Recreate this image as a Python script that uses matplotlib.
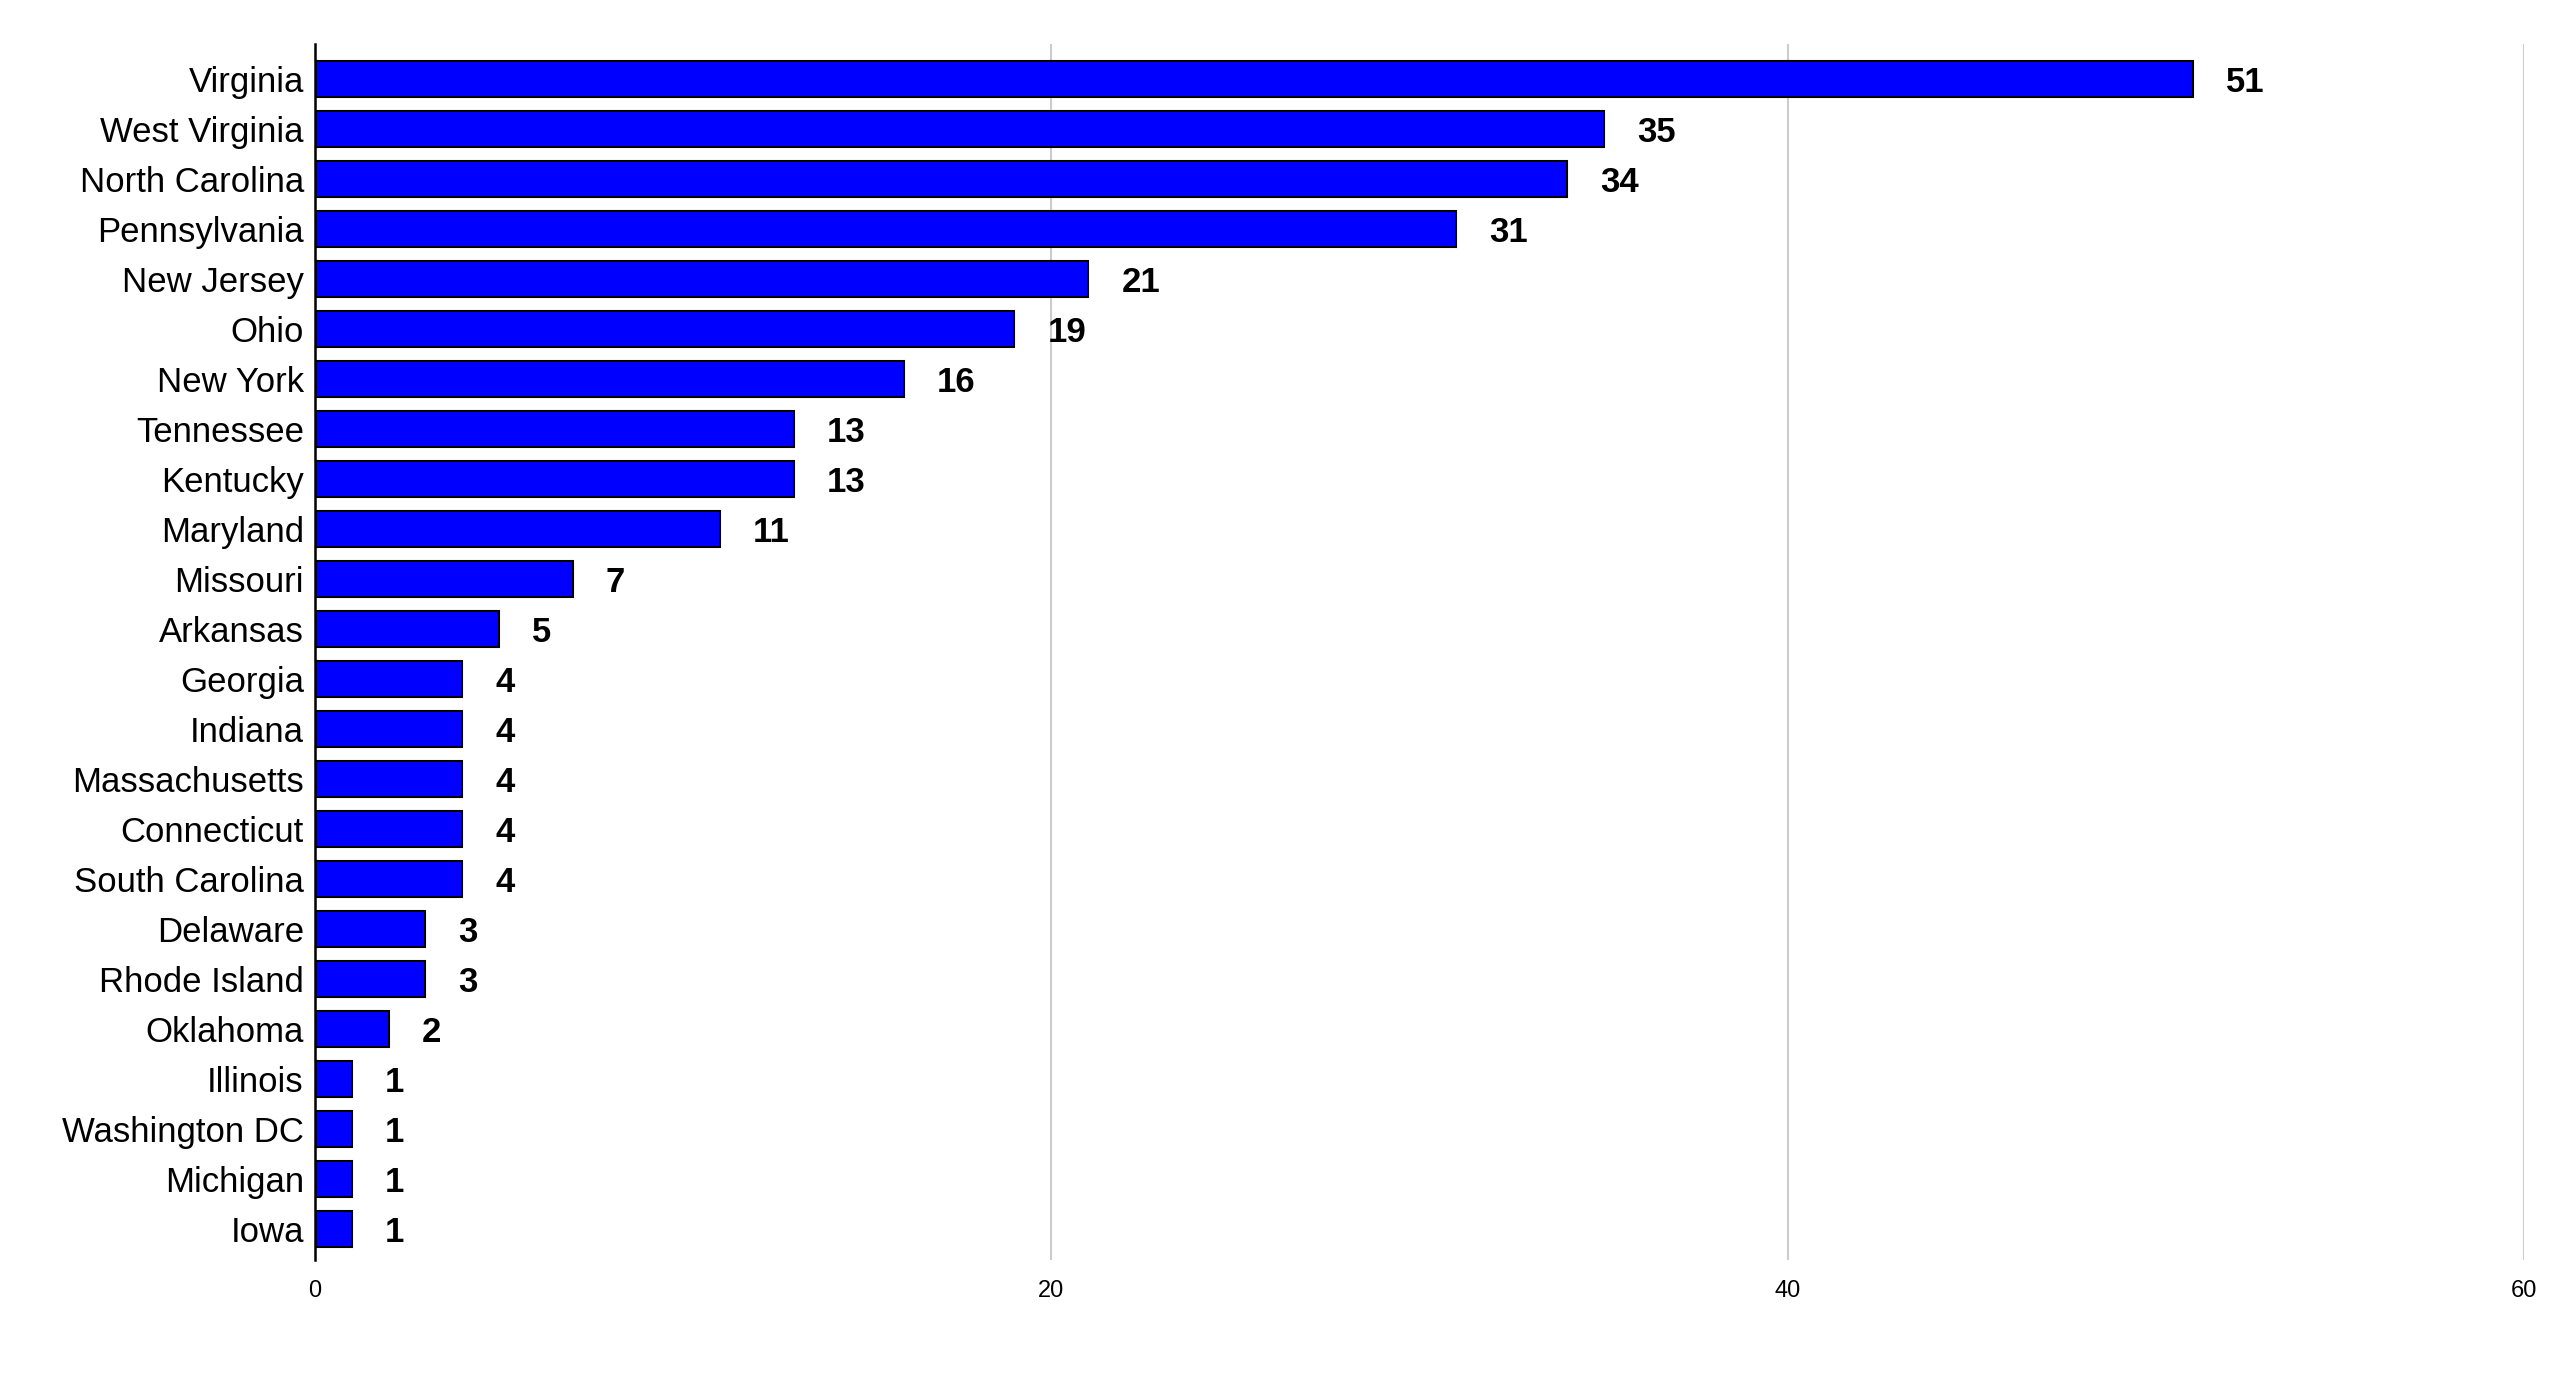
import matplotlib
matplotlib.use("Agg")
import matplotlib.pyplot as plt

states = ["Virginia", "West Virginia", "North Carolina", "Pennsylvania", "New Jersey",
          "Ohio", "New York", "Tennessee", "Kentucky", "Maryland", "Missouri",
          "Arkansas", "Georgia", "Indiana", "Massachusetts", "Connecticut",
          "South Carolina", "Delaware", "Rhode Island", "Oklahoma", "Illinois",
          "Washington DC", "Michigan", "Iowa"]
counts = [51, 35, 34, 31, 21, 19, 16, 13, 13, 11, 7, 5, 4, 4, 4, 4, 4, 3, 3, 2, 1, 1, 1, 1]

plt.rcParams["font.family"] = "Liberation Sans"

fig = plt.figure(figsize=(25.6, 13.79), dpi=100)
ax = fig.add_axes([0.123, 0.086, 0.863, 0.882])

y = list(range(len(states)))
ax.barh(y, counts, height=0.72, color="#0000ff", edgecolor="black", linewidth=1.5, zorder=3)
for yi, v in zip(y, counts):
    ax.text(v + 0.9, yi, str(v), va="center_baseline", ha="left", fontsize=25,
            fontweight="bold", color="black")

ax.set_yticks(y)
ax.set_yticklabels(states, fontsize=25)
ax.set_ylim(len(states) - 1 + 0.62, -0.69)
ax.set_xlim(0, 60)
ax.set_xticks([0, 20, 40, 60])
ax.tick_params(axis="x", labelsize=17, length=0, pad=14)
ax.tick_params(axis="y", length=0, pad=8)
ax.grid(axis="x", color="#cccccc", linewidth=1.5, zorder=0)
for s in ["top", "right", "bottom"]:
    ax.spines[s].set_visible(False)
ax.spines["left"].set_linewidth(1.8)
ax.spines["left"].set_zorder(4)

fig.savefig("out.png", dpi=100)
